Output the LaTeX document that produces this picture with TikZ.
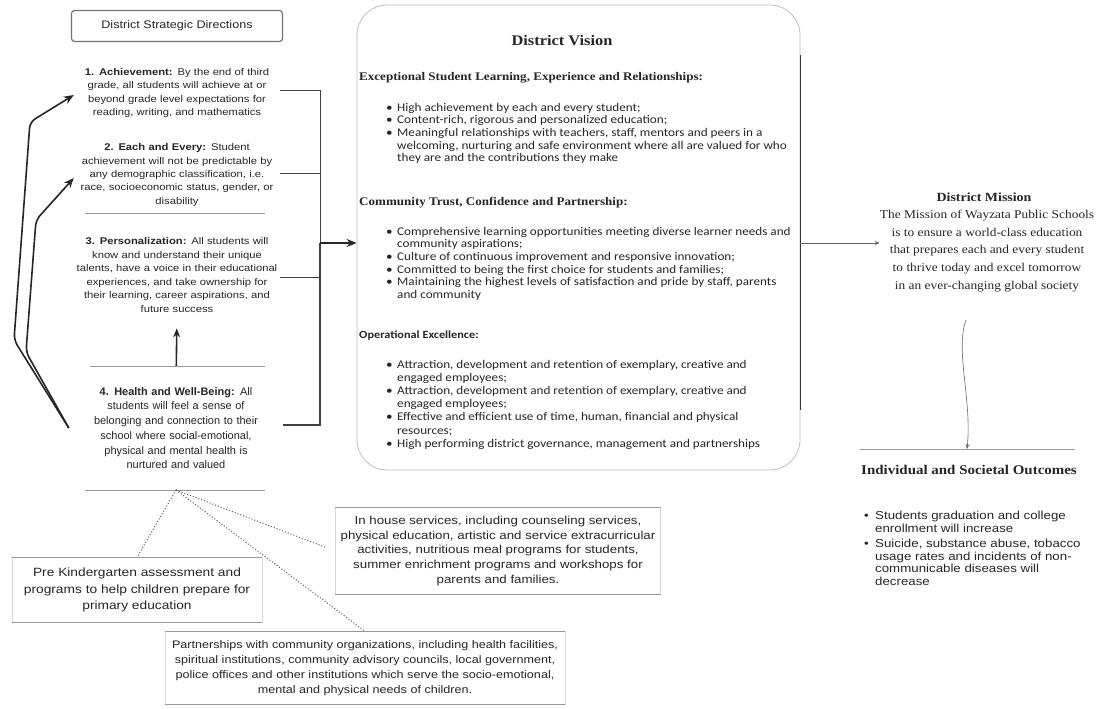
\documentclass[tikz,border=0pt]{standalone}
\usepackage{fontspec}
\setmainfont{Liberation Serif}
\setsansfont{Liberation Sans}
\newfontfamily\carlito[FakeStretch=1.12]{Carlito}
\newfontfamily\scanserif[FakeStretch=1.12]{Liberation Serif}
\newfontfamily\scansans[FakeStretch=1.15]{Liberation Sans}
\usetikzlibrary{arrows.meta, positioning, calc}

\newcommand{\bl}{\makebox[11bp][l]{\textbullet}}
\newcommand{\ind}{\hspace*{11bp}}

\begin{document}
\begin{tikzpicture}[
        x=1bp, y=-1bp,
        every node/.style={text=black!85},
        header/.style={rectangle, rounded corners=3bp, draw=black!55, line width=1.2bp, minimum width=211bp, minimum height=31bp, font=\scansans\fontsize{11}{12}\selectfont},
        direction/.style={align=center, text width=206bp, inner sep=0pt, font=\scansans\fontsize{9.8}{13.5}\selectfont},
        health/.style={align=center, text width=214bp, inner sep=0pt, font=\sffamily\fontsize{11}{14.8}\selectfont},
        visionbox/.style={rectangle, rounded corners=30bp, draw=black!25, line width=0.8bp, minimum width=443bp, minimum height=465bp},
        vtitle/.style={font=\scanserif\bfseries\fontsize{14.7}{16}\selectfont},
        vhead/.style={inner sep=0pt, font=\scanserif\bfseries\fontsize{11.7}{13}\selectfont},
        vlist/.style={align=left, inner sep=0pt, font=\carlito\fontsize{11.8}{12.6}\selectfont},
        mtitle/.style={font=\scanserif\bfseries\fontsize{12.5}{15}\selectfont},
        mtext/.style={align=center, inner sep=0pt, font=\scanserif\fontsize{12}{17.7}\selectfont},
        otitle/.style={font=\scanserif\bfseries\fontsize{13.4}{15}\selectfont},
        olist/.style={align=left, inner sep=0pt, font=\scansans\fontsize{11.6}{12.5}\selectfont},
        support/.style={rectangle, draw=black!15, align=center, inner sep=0pt, minimum width=250bp, minimum height=65bp, font=\scansans\fontsize{12}{16.5}\selectfont},
        bracket/.style={black!75, line width=0.7bp},
        bigarrow/.style={-{Stealth[length=10bp, width=8bp]}, black!85, line width=2bp},
        uparrow/.style={-{Stealth[length=9bp, width=7bp]}, line width=1.6bp, black!85, shorten <=20bp, shorten >=16bp},
        loopback/.style={-{Stealth[length=10bp, width=8bp]}, line width=1.6bp, black!85, rounded corners=6bp},
        thinarrow/.style={-{Stealth[length=5bp, width=4bp]}, black!60, line width=0.6bp},
        rule/.style={black!40, line width=0.8bp},
        dotlink/.style={dotted, black!65, line width=1bp},
        visionedge/.style={black!80, line width=1.6bp}
    ]
        \useasboundingbox (0,0) rectangle (1096,709);

        % Nodes
        \node[header] (sdd) at (177,26) {District Strategic Directions};
        \node[direction] (ach) at (177,93) {\textbf{1. Achievement:} By the end of third\\grade, all students will achieve at or\\beyond grade level expectations for\\reading, writing, and mathematics};
        \node[direction] (each) at (177,175) {\textbf{2. Each and Every:} Student\\achievement will not be predictable by\\any demographic classification, i.e.\\race, socioeconomic status, gender, or\\disability};
        \node[direction] (pers) at (177,275) {\textbf{3. Personalization:} All students will\\know and understand their unique\\talents, have a voice in their educational\\experiences, and take ownership for\\their learning, career aspirations, and\\future success};
        \node[health] (health) at (176,428) {\textbf{4. Health and Well-Being:} All\\students will feel a sense of\\belonging and connection to their\\school where social-emotional,\\physical and mental health is\\nurtured and valued};

        \node[visionbox] (vision) at (578.5,237.5) {};
        \node[vtitle] (vtitle) at (562,41) {District Vision};
        \node[vhead, anchor=west] (head1) at (359,78) {Exceptional Student Learning, Experience and Relationships:};
        \node[vlist, anchor=north west] (list1) at (386,103) {\bl High achievement by each and every student;\\\bl Content-rich, rigorous and personalized education;\\\bl Meaningful relationships with teachers, staff, mentors and peers in a\\\ind welcoming, nurturing and safe environment where all are valued for who\\\ind they are and the contributions they make};
        \node[vhead, anchor=west] (head2) at (359,203) {Community Trust, Confidence and Partnership:};
        \node[vlist, anchor=north west] (list2) at (386,227) {\bl Comprehensive learning opportunities meeting diverse learner needs and\\\ind community aspirations;\\\bl Culture of continuous improvement and responsive innovation;\\\bl Committed to being the first choice for students and families;\\\bl Maintaining the highest levels of satisfaction and pride by staff, parents\\\ind and community};
        \node[vhead, font=\carlito\bfseries\fontsize{11}{13}\selectfont, anchor=west] (head3) at (359,336) {Operational Excellence:};
        \node[vlist, font=\carlito\fontsize{11.8}{13.2}\selectfont, anchor=north west] (list3) at (386,360) {\bl Attraction, development and retention of exemplary, creative and\\\ind engaged employees;\\\bl Attraction, development and retention of exemplary, creative and\\\ind engaged employees;\\\bl Effective and efficient use of time, human, financial and physical\\\ind resources;\\\bl High performing district governance, management and partnerships};

        \node[mtitle] (mtitle) at (984,197) {District Mission};
        \node[mtext] (mission) at (987,251) {The Mission of Wayzata Public Schools\\is to ensure a world-class education\\that prepares each and every student\\to thrive today and excel tomorrow\\in an ever-changing global society};
        \node[otitle] (otitle) at (969,470) {Individual and Societal Outcomes};
        \node[olist, anchor=north west] (outcomes) at (864,511) {\bl Students graduation and college\\\ind enrollment will increase\\[3.5bp]\bl Suicide, substance abuse, tobacco\\\ind usage rates and incidents of non-\\\ind communicable diseases will\\\ind decrease};

        \node[support] (prek) at (137,590) {Pre Kindergarten assessment and\\programs to help children prepare for\\primary education};
        \node[support, minimum width=325bp, minimum height=87bp, font=\scansans\fontsize{11.6}{15}\selectfont] (inhouse) at (498,551) {In house services, including counseling services,\\physical education, artistic and service extracurricular\\activities, nutritious meal programs for students,\\summer enrichment programs and workshops for\\parents and families.};
        \node[support, minimum width=400bp, minimum height=73bp, font=\scansans\fontsize{11}{15}\selectfont] (partner) at (365,668) {Partnerships with community organizations, including health facilities,\\spiritual institutions, community advisory councils, local government,\\police offices and other institutions which serve the socio-emotional,\\mental and physical needs of children.};

        % Paths
        \coordinate (bus) at (320,243);
        \draw[bracket] ([yshift=3bp]ach.east) -| (bus);
        \draw[bracket] ([yshift=2bp]each.east) -| (bus);
        \draw[bracket] ([yshift=-2bp]pers.east) -| (bus);
        \draw[bracket, line width=1.8bp] ([yshift=3bp]health.east) -| (bus);
        \draw[bigarrow] (bus) -- (bus -| vision.west);
        \draw[uparrow] (health.north) -- (pers.south);
        \draw[loopback] (health.west) -- (14,340) -- (30,122) -- ([yshift=-2bp]ach.west);
        \draw[loopback] (health.west) -- (26,352) -- (36,220) -- ([yshift=-3bp]each.west);

        \draw[visionedge] ([yshift=-50bp]vision.north east) -- ([yshift=60bp]vision.south east);
        \draw[thinarrow] (bus -| vision.east) -- (bus -| mission.west);

        \coordinate (drop) at (966,320);
        \coordinate (land) at (967,449);
        \draw[thinarrow] (drop) .. controls (955,350) and (972,400) .. (land);
        \draw[rule] (860,449) -- (1075,449);

        % Rules under the directions
        \draw[rule] (85,213) -- (265,213);
        \draw[rule] (90,366) -- (265,366);
        \draw[rule] (85,490) -- (265,490);

        % Supporting services
        \coordinate (hub) at (176,490);
        \draw[dotlink] (hub) -- (prek.north);
        \draw[dotlink, shorten >=10bp] (hub) -- (inhouse.west);
        \draw[dotlink] (hub) -- (partner.north);
        \draw[rule] (prek.north west) -- (prek.north east);
        \draw[rule] (prek.south west) -- (prek.south east);
        \draw[rule] (inhouse.north west) -- (inhouse.north east);
        \draw[rule] (inhouse.south west) -- (inhouse.south east);
        \draw[rule] (partner.north west) -- (partner.north east);
        \draw[rule] (partner.south west) -- (partner.south east);

    \end{tikzpicture}
\end{document}
